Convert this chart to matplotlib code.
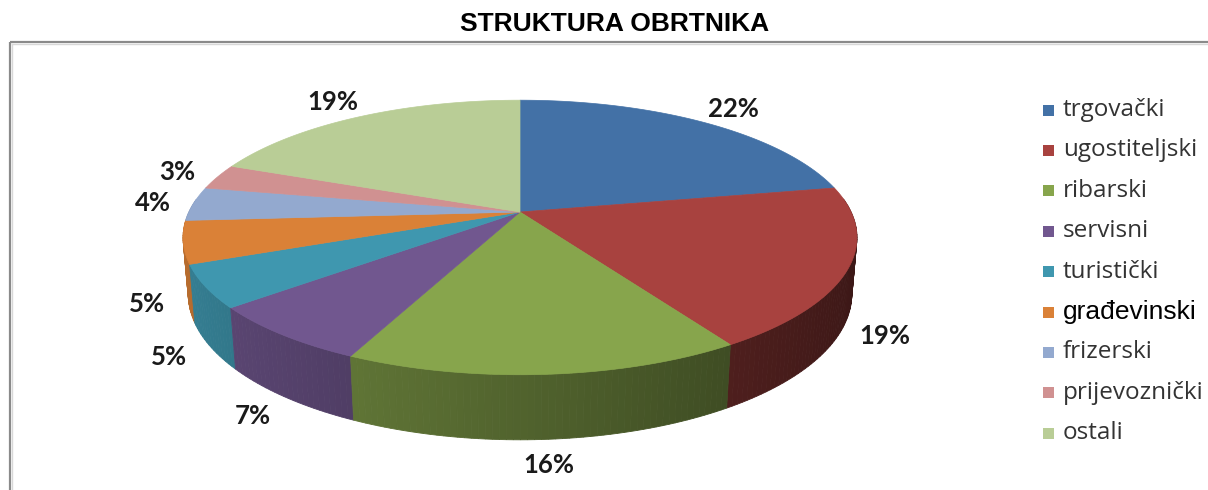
import numpy as np
import matplotlib
matplotlib.use('Agg')
import matplotlib.pyplot as plt
from matplotlib.patches import Polygon, Rectangle

# podaci
categories = ['trgovački', 'ugostiteljski', 'ribarski', 'servisni', 'turistički',
              'građevinski', 'frizerski', 'prijevoznički', 'ostali']
values = [22, 19, 16, 7, 5, 5, 4, 3, 19]
colors = ['#4371A6', '#A8423F', '#87A54C', '#71578F', '#3F97AF',
          '#DA8137', '#93A9CF', '#D09191', '#B9CD96']

# geometrija 3D pite (perspektiva, u pikselima)
CX, CY = 520, 212
F = 1636
DIST = 4.941
TILT = np.radians(23.6)
H = 0.186


def project(x, y, z=0.0):
    c, s = np.cos(TILT), np.sin(TILT)
    v = y * s + z * c
    dep = DIST + y * c - z * s
    return CX + F * x / dep, CY - F * v / dep


def shade(col, k):
    rgb = np.array(matplotlib.colors.to_rgb(col))
    return tuple(np.clip(rgb * k, 0, 1))


fig = plt.figure(figsize=(12.08, 4.90), dpi=100)
ax = fig.add_axes([0, 0, 1, 1])
ax.set_xlim(0, 1208)
ax.set_ylim(490, 0)
ax.axis('off')

# okvir
ax.plot([10, 10], [490, 42.5], color='#8a8a8a', lw=1.6, solid_capstyle='butt')
ax.plot([10, 1208], [42.5, 42.5], color='#8a8a8a', lw=1.6, solid_capstyle='butt')
ax.plot([12, 12], [490, 44.5], color='#d8d8d8', lw=1)
ax.plot([12, 1208], [44.5, 44.5], color='#d8d8d8', lw=1)

ax.text(615, 24, 'STRUKTURA OBRTNIKA', ha='center', va='center',
        fontsize=19, fontweight='bold', family=['Liberation Sans', 'DejaVu Sans'])

vals = np.array(values, dtype=float)
bounds = 90 - 360 * np.concatenate([[0], np.cumsum(vals) / vals.sum()])
rad = np.radians(bounds)

# bocne stranice (od nazad prema naprijed)
walls = []
for i in range(len(values)):
    a1, a2 = rad[i], rad[i + 1]
    n = max(int(abs(a2 - a1) / np.radians(1.0)), 2)
    t = np.linspace(a1, a2, n + 1)
    for j in range(n):
        m = 0.5 * (t[j] + t[j + 1])
        if np.sin(m) > 0.1:
            continue
        p1 = project(np.cos(t[j]), np.sin(t[j]))
        p2 = project(np.cos(t[j + 1]), np.sin(t[j + 1]))
        p3 = project(np.cos(t[j + 1]), np.sin(t[j + 1]), -H)
        p4 = project(np.cos(t[j]), np.sin(t[j]), -H)
        k = 0.6 - 0.25 * np.cos(m)
        walls.append((np.sin(m), [p1, p2, p3, p4], shade(colors[i], k)))

walls.sort(key=lambda w: -w[0])
for _, pts, col in walls:
    ax.add_patch(Polygon(pts, closed=True, facecolor=col, edgecolor=col, lw=0.6))

# gornje plohe
for i in range(len(values)):
    t = np.linspace(rad[i], rad[i + 1], 120)
    xs, ys = project(np.cos(t), np.sin(t))
    pts = [(CX, CY)] + list(zip(xs, ys))
    ax.add_patch(Polygon(pts, closed=True, facecolor=colors[i], edgecolor=colors[i], lw=0.5))

# postoci
lab_font = ['Lato', 'DejaVu Sans']
for i, v in enumerate(values):
    m = 0.5 * (rad[i] + rad[i + 1])
    sm = np.sin(m)
    z = -H if sm < 0 else 0.0
    r = 1.12 + 0.08 * max(sm, 0)
    lx, ly = project(r * np.cos(m), r * sm, z)
    ax.text(lx, ly, f'{v}%', ha='center', va='center', fontsize=18.5,
            fontweight='bold', color='#1a1a1a', family=lab_font)

# legenda
for i, name in enumerate(categories):
    y = 110 + i * 40.4
    ax.add_patch(Rectangle((1043, y - 5.5), 11, 11, facecolor=colors[i], edgecolor='none'))
    if name == 'građevinski':
        ax.text(1063, y, name, ha='left', va='center', fontsize=19,
                color='black', family=['Liberation Sans', 'DejaVu Sans'])
    else:
        ax.text(1063, y, name, ha='left', va='center', fontsize=17.5,
                color='#333333', family=['Open Sans', 'DejaVu Sans'])

fig.savefig('out.png', dpi=100)
